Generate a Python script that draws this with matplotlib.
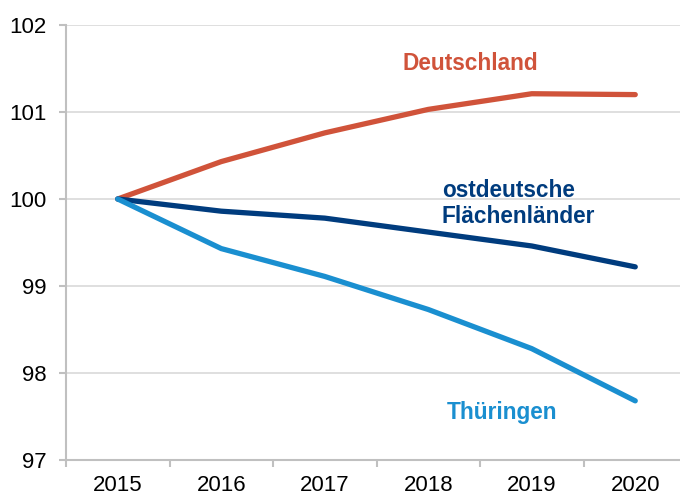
import numpy as np
import matplotlib.pyplot as plt

plt.rcParams['font.family'] = ['Liberation Sans', 'DejaVu Sans']

years = ['2015', '2016', '2017', '2018', '2019', '2020']
deutschland = [100, 100.43, 100.76, 101.03, 101.21, 101.2]
ostdeutsche = [100, 99.86, 99.78, 99.62, 99.46, 99.22]
thueringen = [100, 99.43, 99.11, 98.73, 98.28, 97.68]

c_de = '#D0533A'
c_ost = '#003C7E'
c_th = '#1A8FD0'

fig = plt.figure(figsize=(6.8, 4.98), dpi=100)
ax = fig.add_axes([66/680, 1 - 460/498, 621/680, 435/498])

x = np.arange(len(years))
ax.plot(x, deutschland, color=c_de, lw=3.8, solid_capstyle='round', zorder=3)
ax.plot(x, ostdeutsche, color=c_ost, lw=3.8, solid_capstyle='round', zorder=3)
ax.plot(x, thueringen, color=c_th, lw=3.8, solid_capstyle='round', zorder=3)

ax.set_xlim(-0.5, 5.5)
ax.set_ylim(97, 102)
ax.set_yticks(range(97, 103))
ax.set_xticks(x)
ax.set_xticklabels(years)
ax.set_xticks(np.arange(-0.5, 6, 1), minor=True)
ax.tick_params(axis='x', which='major', length=0, pad=11, labelsize=16)
ax.tick_params(axis='x', which='minor', length=5, color='#c0c0c0', width=1.5)
ax.tick_params(axis='y', length=5, color='#c0c0c0', width=1.5, pad=9, labelsize=16)

ax.grid(axis='y', color='#d9d9d9', lw=1.2, zorder=0)
for s in ['top', 'right']:
    ax.spines[s].set_visible(False)
for s in ['left', 'bottom']:
    ax.spines[s].set_color('#c0c0c0')
    ax.spines[s].set_linewidth(1.5)

ax.text(3.41, 101.56, 'Deutschland', color=c_de, fontsize=16.3, fontweight='bold', ha='center', va='center')
ax.text(3.13, 99.95, 'ostdeutsche\nFlächenländer', color=c_ost, fontsize=16.3, fontweight='bold',
        ha='left', va='center', linespacing=1.15)
ax.text(3.71, 97.55, 'Thüringen', color=c_th, fontsize=16.3, fontweight='bold', ha='center', va='center')

fig.savefig('out.png', dpi=100)
